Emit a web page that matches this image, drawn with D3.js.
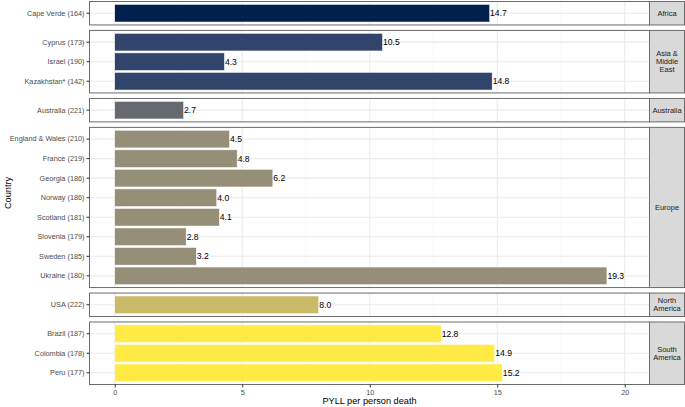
<!DOCTYPE html>
<html>
<head>
<meta charset="utf-8">
<script src="https://cdn.jsdelivr.net/npm/d3@7"></script>
<style>
  body { margin: 0; background: #fff; }
  svg { display: block; font-family: "Liberation Sans", Arial, sans-serif; }
</style>
</head>
<body>
<script>
// data
var regions = ["Africa", "Asia & Middle East", "Australia", "Europe", "North America", "South America"];
var stripLabels = [["Africa"], ["Asia &", "Middle", "East"], ["Australia"], ["Europe"], ["North", "America"], ["South", "America"]];
var regionColors = ["#00204D", "#31446B", "#666970", "#958F78", "#CBBA69", "#FFEA46"];

var countries = ["Cape Verde (164)", "Cyprus (173)", "Israel (190)", "Kazakhstan* (142)", "Australia (221)",
  "England & Wales (210)", "France (219)", "Georgia (186)", "Norway (186)", "Scotland (181)", "Slovenia (179)",
  "Sweden (185)", "Ukraine (180)", "USA (222)", "Brazil (187)", "Colombia (178)", "Peru (177)"];
var countryRegion = ["Africa", "Asia & Middle East", "Asia & Middle East", "Asia & Middle East", "Australia",
  "Europe", "Europe", "Europe", "Europe", "Europe", "Europe", "Europe", "Europe",
  "North America", "South America", "South America", "South America"];
var pyll = [14.7, 10.5, 4.3, 14.8, 2.7, 4.5, 4.8, 6.2, 4.0, 4.1, 2.8, 3.2, 19.3, 8.0, 12.8, 14.9, 15.2];
var xTicks = [0, 5, 10, 15, 20];
var xMinor = [2.5, 7.5, 12.5, 17.5];

var width = 685, height = 407;
var panelLeft = 89.5, panelRight = 649.5, stripRight = 684.5;
var plotTop = 1.5, plotBottom = 384.5, gap = 5.5;
var borderColor = "#6b6b6b";

var svg = d3.select("body").append("svg").attr("width", width).attr("height", height);

var x = d3.scaleLinear().domain([-0.99, 20.97]).range([panelLeft, panelRight]);
var color = d3.scaleOrdinal().domain(regions).range(regionColors);

var rows = countries.map(function(c, i) {
  return { country: c, region: countryRegion[i], value: pyll[i] };
});

var counts = regions.map(function(r) {
  return rows.filter(function(d) { return d.region === r; }).length;
});
var unit = (plotBottom - plotTop - gap * (regions.length - 1)) / (d3.sum(counts) + 0.2 * regions.length);

var panelTop = plotTop;
regions.forEach(function(region, ri) {
  var data = rows.filter(function(d) { return d.region === region; });
  var h = (data.length + 0.2) * unit;
  var y = d3.scaleBand().domain(data.map(function(d) { return d.country; }))
    .range([panelTop, panelTop + h]).paddingInner(0.1).paddingOuter(0.15);

  var g = svg.append("g");

  // panel background + grid
  g.append("rect").attr("x", panelLeft).attr("y", panelTop).attr("width", panelRight - panelLeft).attr("height", h)
    .attr("fill", "#fff");
  g.selectAll(".minor").data(xMinor).enter().append("line")
    .attr("x1", function(d) { return x(d); }).attr("x2", function(d) { return x(d); })
    .attr("y1", panelTop).attr("y2", panelTop + h).attr("stroke", "#F3F3F3").attr("stroke-width", 0.6);
  g.selectAll(".major").data(xTicks).enter().append("line")
    .attr("x1", function(d) { return x(d); }).attr("x2", function(d) { return x(d); })
    .attr("y1", panelTop).attr("y2", panelTop + h).attr("stroke", "#EBEBEB").attr("stroke-width", 1.1);
  g.selectAll(".hgrid").data(data).enter().append("line")
    .attr("x1", panelLeft).attr("x2", panelRight)
    .attr("y1", function(d) { return y(d.country) + y.bandwidth() / 2; })
    .attr("y2", function(d) { return y(d.country) + y.bandwidth() / 2; })
    .attr("stroke", "#EBEBEB").attr("stroke-width", 1.1);

  // bars
  g.selectAll(".bar").data(data).enter().append("rect")
    .attr("x", x(0)).attr("y", function(d) { return y(d.country); })
    .attr("width", function(d) { return x(d.value) - x(0); })
    .attr("height", y.bandwidth())
    .attr("fill", color(region)).attr("stroke", "#fff").attr("stroke-width", 0.5);

  // value labels
  g.selectAll(".val").data(data).enter().append("text")
    .attr("x", function(d) { return x(d.value) + 0.5; })
    .attr("y", function(d) { return y(d.country) + y.bandwidth() / 2; })
    .attr("dy", "0.35em").attr("font-size", 8.6).attr("fill", "#000")
    .text(function(d) { return d.value.toFixed(1); });

  // panel border
  g.append("rect").attr("x", panelLeft).attr("y", panelTop).attr("width", panelRight - panelLeft).attr("height", h)
    .attr("fill", "none").attr("stroke", borderColor).attr("stroke-width", 1);

  // y axis
  var yAxis = g.append("g").attr("transform", "translate(" + panelLeft + ",0)")
    .call(d3.axisLeft(y).tickSize(3).tickPadding(2));
  yAxis.select(".domain").remove();
  yAxis.selectAll(".tick line").attr("stroke", "#333");
  yAxis.selectAll("text").attr("font-size", 7.3).attr("fill", "#4D4D4D")
    .attr("font-family", "Liberation Sans, Arial, sans-serif");

  // strip
  g.append("rect").attr("x", panelRight).attr("y", panelTop).attr("width", stripRight - panelRight).attr("height", h)
    .attr("fill", "#D9D9D9").attr("stroke", borderColor).attr("stroke-width", 1);
  var lines = stripLabels[ri];
  var lh = 8;
  var st = g.append("text").attr("font-size", 7.5).attr("fill", "#1A1A1A").attr("text-anchor", "middle");
  lines.forEach(function(l, li) {
    st.append("tspan").attr("x", (panelRight + stripRight) / 2)
      .attr("y", panelTop + h / 2 + (li - (lines.length - 1) / 2) * lh)
      .attr("dy", "0.35em").text(l);
  });

  panelTop += h + gap;
});

// x axis
var xAxis = svg.append("g").attr("transform", "translate(0," + plotBottom + ")")
  .call(d3.axisBottom(x).tickValues(xTicks).tickSize(3).tickPadding(2));
xAxis.select(".domain").remove();
xAxis.selectAll(".tick line").attr("stroke", "#333");
xAxis.selectAll("text").attr("font-size", 7.3).attr("fill", "#4D4D4D")
  .attr("font-family", "Liberation Sans, Arial, sans-serif");

// axis titles
svg.append("text").attr("x", (panelLeft + panelRight) / 2).attr("y", 404)
  .attr("text-anchor", "middle").attr("font-size", 9.2).attr("fill", "#000")
  .text("PYLL per person death");
svg.append("text").attr("transform", "translate(11," + (plotTop + plotBottom) / 2 + ") rotate(-90)")
  .attr("text-anchor", "middle").attr("font-size", 9.2).attr("fill", "#000")
  .text("Country");
</script>
</body>
</html>
